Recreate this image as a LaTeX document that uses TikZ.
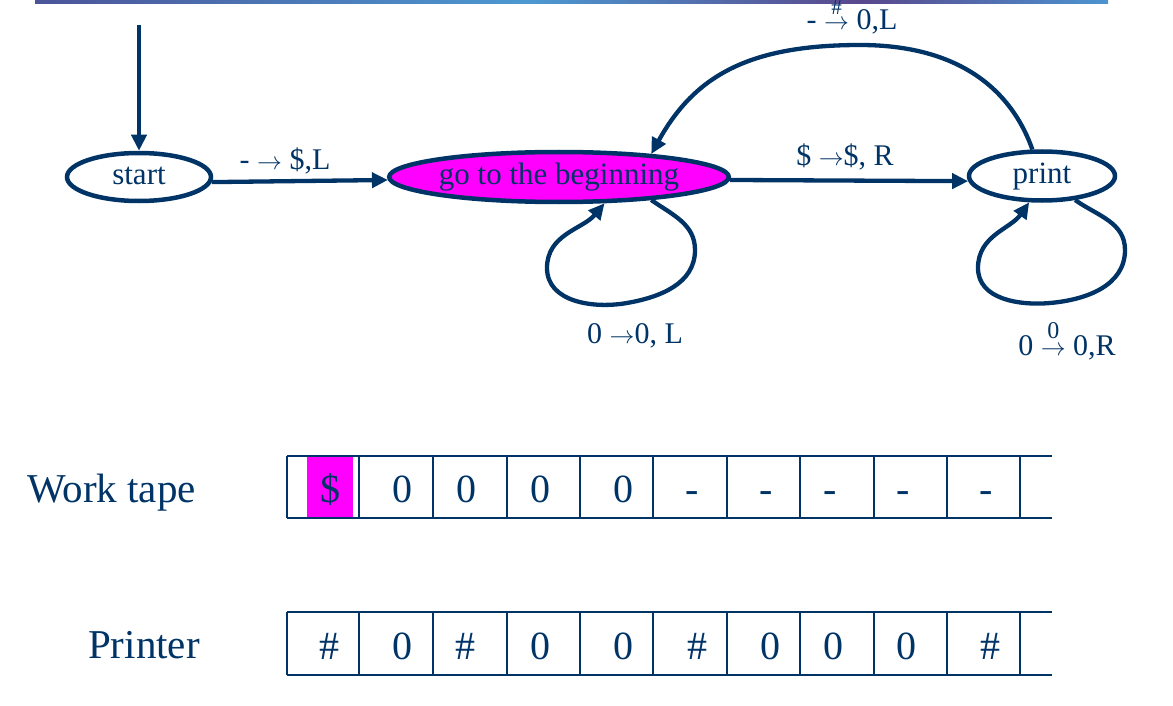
\documentclass[tikz,border=0pt]{standalone}
\usepackage{fontspec}
\setmainfont{Liberation Serif}
\usetikzlibrary{arrows.meta,shapes.geometric}
\definecolor{navy}{RGB}{0,51,102}
\definecolor{mag}{RGB}{255,0,255}
\pgfdeclarehorizontalshading{topbar}{100bp}{rgb(0bp)=(0.30,0.33,0.60); rgb(25bp)=(0.30,0.33,0.60); rgb(48bp)=(0.30,0.60,0.82); rgb(63.5bp)=(0.35,0.28,0.55); rgb(75bp)=(0.30,0.58,0.82); rgb(100bp)=(0.30,0.58,0.82)}
\newcommand{\arr}{$\rightarrow$}
\newcommand{\arrowwith}[3]{\ooalign{$\rightarrow$\cr\hidewidth\raisebox{#2}{\fontsize{#3}{#3}\selectfont #1}\hidewidth\cr}}
\begin{document}
\begin{tikzpicture}[x=1pt,y=-1pt,
  every node/.style={text=navy},
  state/.style={ellipse, draw=navy, line width=4.5pt, inner sep=0pt, text height=21pt, text depth=7pt, font=\fontsize{31}{36}\selectfont},
  edge/.style={draw=navy, line width=4.3pt, -{Triangle[length=16pt,width=15pt]}},
  lbl/.style={font=\fontsize{30}{34}\selectfont, inner sep=0pt, anchor=base},
  tape/.style={draw=navy, line width=1.3pt},
  sym/.style={font=\fontsize{40}{48}\selectfont, inner sep=0pt, anchor=base},
  big/.style={font=\fontsize{41}{48}\selectfont, inner sep=0pt, anchor=base west}]
\useasboundingbox (0,0) rectangle (1173,706);
\shade[shading=topbar] (35,0) rectangle (1108,4);

% states
\node[state, minimum width=144pt, minimum height=48pt] (start) at (139,177) {start};
\node[state, fill=mag, minimum width=334pt, minimum height=50pt] (go) at (559,177) {go to the beginning};
\node[state, minimum width=146pt, minimum height=49pt] (print) at (1042,176) {print};

% connectors
\coordinate (init) at (139,25);
\draw[edge] (init) -- (start.north);
\draw[edge] (start.-4) -- (go.181.7);
\draw[edge] (go.-1.7) -- (print.184.8);
\draw[edge] (print.110) .. controls (1015,100) and (970,45) .. (860,45)
                         .. controls (750,45) and (695,75) .. (go.14);
\draw[edge] (go.-14) to[out=-35,in=90] (695,250) to[out=-90,in=10] (627,303)
                     to[out=190,in=-90] (547,268) to[out=90,in=-130] (go.-30.5);
\draw[edge] (print.-36) to[out=-35,in=90] (1125,250) to[out=-90,in=5] (1050,303)
                        to[out=185,in=-90] (978,268) to[out=90,in=-125] (print.-116);

% labels
\node[lbl] (l1) at (285,170) {- \arr{} \$,L};
\node[lbl] (l2) at (845,165) {\$ \arr\$, R};
\node[lbl] (l3) at (852,30) {- \arrowwith{\#}{15pt}{21} 0,L};
\node[lbl] (l4) at (635,343) {0 \arr0, L};
\node[lbl] (l5) at (1067,355) {0 \arrowwith{0}{17pt}{24} 0,R};

% tapes
\node[big] (wt) at (27,502) {Work tape};
\node[big] (pr) at (88,658) {Printer};

\fill[mag] (307,456) rectangle (353,518);
\draw[tape] (287,456) -- (1052,456) (287,518) -- (1052,518);
\draw[tape] (287,612) -- (1052,612) (287,675) -- (1052,675);
\foreach \x in {287,359,433,507,580,653,727,800,874,947,1020}{
  \draw[tape] (\x,456) -- (\x,518);
  \draw[tape] (\x,612) -- (\x,675);
}
\foreach \x/\s [count=\i] in {330/\$,402/0,466/0,540/0,623/0,692/-,766/-,830/-,903/-,986/-}
  \node[sym] (w\i) at (\x,502) {\s};
\foreach \x/\s [count=\i] in {329/\#,402/0,465/\#,540/0,623/0,697/\#,770/0,833/0,906/0,990/\#}
  \node[sym] (p\i) at (\x,659) {\s};
\end{tikzpicture}
\end{document}
